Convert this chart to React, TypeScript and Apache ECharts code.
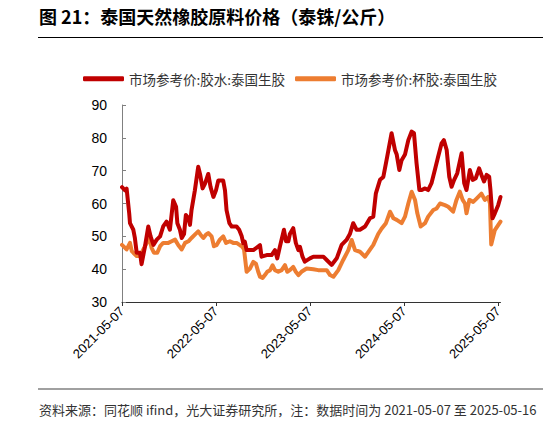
import React, { useEffect, useRef } from "react";
import * as echarts from "echarts";

const titleText = "图 21：泰国天然橡胶原料价格（泰铢/公斤）";
const sourceText = "资料来源：同花顺 ifind，光大证券研究所，注：数据时间为 2021-05-07 至 2025-05-16";
const seriesNames = ["市场参考价:胶水:泰国生胶", "市场参考价:杯胶:泰国生胶"];
const xTickLabels = ["2021-05-07", "2022-05-07", "2023-05-07", "2024-05-07", "2025-05-07"];
const xRange = ["2021-05-07", "2025-05-16"];
const yTicks = [30, 40, 50, 60, 70, 80, 90];

const latexDates = [
  "2021-05-07", "2021-05-19", "2021-05-25", "2021-06-04", "2021-06-07", "2021-06-20", "2021-06-26",
  "2021-07-03", "2021-07-16", "2021-07-22", "2021-08-04", "2021-08-17", "2021-08-26", "2021-09-06",
  "2021-09-19", "2021-10-02", "2021-10-14", "2021-10-27", "2021-11-09", "2021-11-22", "2021-12-03",
  "2021-12-08", "2021-12-18", "2021-12-25", "2022-01-03", "2022-01-10", "2022-01-20", "2022-01-26",
  "2022-02-01", "2022-02-14", "2022-02-27", "2022-03-06", "2022-03-16", "2022-03-25", "2022-04-07",
  "2022-04-16", "2022-04-27", "2022-05-07", "2022-05-16", "2022-06-04", "2022-06-11", "2022-06-17",
  "2022-06-28", "2022-07-07", "2022-07-26", "2022-08-05", "2022-08-15", "2022-08-21", "2022-08-27",
  "2022-09-03", "2022-09-29", "2022-10-25", "2022-10-31", "2022-11-20", "2022-12-09", "2022-12-22",
  "2022-12-31", "2023-01-10", "2023-01-26", "2023-02-03", "2023-02-12", "2023-02-18", "2023-03-03",
  "2023-03-13", "2023-03-23", "2023-03-29", "2023-04-08", "2023-04-17", "2023-05-07", "2023-05-20",
  "2023-06-15", "2023-06-28", "2023-07-11", "2023-07-30", "2023-08-19", "2023-09-07", "2023-09-26",
  "2023-10-09", "2023-10-22", "2023-11-04", "2023-11-17", "2023-12-07", "2023-12-26", "2024-01-08",
  "2024-01-18", "2024-02-03", "2024-02-16", "2024-03-02", "2024-03-19", "2024-04-01", "2024-04-08",
  "2024-04-18", "2024-04-27", "2024-05-10", "2024-05-23", "2024-06-05", "2024-06-14", "2024-06-24",
  "2024-07-05", "2024-07-14", "2024-07-27", "2024-08-08", "2024-08-21", "2024-09-03", "2024-09-16",
  "2024-09-29", "2024-10-08", "2024-10-19", "2024-10-29", "2024-11-07", "2024-11-17", "2024-11-29",
  "2024-12-16", "2024-12-26", "2025-01-04", "2025-01-17", "2025-01-28", "2025-02-09", "2025-02-22",
  "2025-03-03", "2025-03-13", "2025-03-23", "2025-04-02", "2025-04-07", "2025-04-15", "2025-04-24",
  "2025-05-07", "2025-05-16",
];
const latexValues = [
  65, 64, 64.5, 57, 54, 52, 49.5,
  45, 45, 41.5, 46.8, 53, 50, 47.4,
  49, 50, 53, 54.5, 52, 61, 59,
  54, 52, 49.5, 50.7, 56.5, 55.5, 53.5,
  58, 64, 71.2, 69, 64.6, 66, 69,
  65, 62, 64, 67, 67, 64, 58,
  54, 53, 53, 52, 50, 47.9, 48.4,
  45.8, 45.8, 47.3, 43.8, 44.3, 44.3, 45.8,
  43.3, 46.8, 52, 48.5, 48.5, 50.7, 52.5,
  48, 45.8, 46.8, 43.8, 42.3, 43.3, 43.8,
  43.8, 43.8, 42.8, 41.3, 43.3, 47.4, 48.9,
  50.7, 54, 52, 52, 53, 55.5, 56,
  63.1, 67.2, 68.1, 74.3, 81.4, 76.3, 74.9,
  70.2, 73.2, 74.9, 79.3, 81.9, 81.4, 72.2,
  64.1, 64.1, 64.6, 64.1, 66.2, 70.2, 74.3,
  78.3, 79.3, 76.3, 68.1, 65.1, 67.2, 69.2,
  75.3, 66.2, 64.1, 70.2, 67.2, 67.7, 70.7,
  68.7, 66.7, 68.7, 68.2, 64.1, 55.5, 57,
  59.5, 62,
];

const cupDates = [
  "2021-05-07", "2021-05-19", "2021-05-25", "2021-06-07", "2021-06-14", "2021-06-20", "2021-07-03",
  "2021-07-16", "2021-07-29", "2021-08-11", "2021-08-21", "2021-08-30", "2021-09-08", "2021-09-21",
  "2021-10-02", "2021-10-14", "2021-11-03", "2021-11-16", "2021-11-29", "2021-12-12", "2021-12-25",
  "2022-01-07", "2022-01-20", "2022-02-01", "2022-02-14", "2022-02-27", "2022-03-08", "2022-03-19",
  "2022-03-29", "2022-04-07", "2022-04-20", "2022-04-29", "2022-05-09", "2022-05-22", "2022-06-04",
  "2022-06-15", "2022-06-30", "2022-07-13", "2022-07-26", "2022-08-08", "2022-08-15", "2022-08-24",
  "2022-09-03", "2022-09-16", "2022-09-29", "2022-10-09", "2022-10-18", "2022-10-25", "2022-11-04",
  "2022-11-13", "2022-11-22", "2022-12-03", "2022-12-13", "2022-12-22", "2023-01-04", "2023-01-17",
  "2023-01-30", "2023-02-08", "2023-02-18", "2023-03-03", "2023-03-13", "2023-03-23", "2023-04-04",
  "2023-04-24", "2023-05-20", "2023-06-08", "2023-07-11", "2023-07-24", "2023-08-06", "2023-08-25",
  "2023-09-13", "2023-10-03", "2023-10-16", "2023-10-29", "2023-11-17", "2023-12-07", "2023-12-20",
  "2024-01-08", "2024-01-27", "2024-02-09", "2024-02-26", "2024-03-13", "2024-03-26", "2024-04-08",
  "2024-04-27", "2024-05-10", "2024-05-23", "2024-06-05", "2024-06-18", "2024-06-27", "2024-07-10",
  "2024-07-27", "2024-08-08", "2024-08-28", "2024-09-10", "2024-09-23", "2024-10-12", "2024-10-25",
  "2024-11-13", "2024-11-26", "2024-12-09", "2024-12-20", "2024-12-29", "2025-01-04", "2025-01-15",
  "2025-01-30", "2025-02-12", "2025-03-03", "2025-03-16", "2025-03-29", "2025-04-05", "2025-04-10",
  "2025-04-24", "2025-05-16",
];
const cupValues = [
  47.4, 46.5, 46, 48, 45.5, 45, 44,
  44, 46, 48, 49.5, 46.5, 45, 45,
  47, 48, 48, 48.5, 49, 47.3, 46,
  48, 48.5, 49.5, 50.5, 51.5, 50.5, 49.5,
  50.5, 51, 50, 47, 47.3, 49, 50,
  48, 48.5, 48, 48, 47.3, 47, 46,
  39.2, 40.2, 42.2, 41.7, 39.2, 37.7, 37.3,
  38.2, 39.2, 39.7, 41.2, 39.7, 39.2, 39.7,
  41.2, 39.2, 39.7, 40.7, 39.2, 38.2, 39.2,
  40.2, 40, 39.7, 39.7, 38.2, 37.7, 39.7,
  42.8, 45.8, 48.9, 45.8, 45.3, 43.8, 45.3,
  47.4, 50.7, 52.3, 54, 57.5, 55.5, 55,
  54, 56, 60, 63.6, 61.1, 57, 53,
  54, 56, 58, 58.5, 60, 59.5, 59,
  57.5, 61.1, 63.6, 61.1, 60, 57, 61.1,
  60.5, 61.5, 63, 61.1, 62, 60, 47.5,
  51.9, 54.5,
];

const toTime = (s: string) => {
  const [y, m, d] = s.split("-").map(Number);
  return new Date(y, m - 1, d).getTime();
};
const pad = (n: number) => (n < 10 ? "0" + n : "" + n);
const fmtDate = (v: number) => {
  const d = new Date(v);
  return d.getFullYear() + "-" + pad(d.getMonth() + 1) + "-" + pad(d.getDate());
};

export default function App() {
  const ref = useRef<HTMLDivElement>(null);
  useEffect(() => {
    if (!ref.current) return;
    const chart = echarts.init(ref.current, null, { renderer: "svg" });
    const tickTimes = xTickLabels.map(toTime);
    const option: any = {
      animation: false,
      backgroundColor: "#ffffff",
      textStyle: { fontFamily: "'Noto Sans CJK SC', sans-serif" },
      grid: { left: 122, right: 48.5, top: 105, bottom: 119 },
      legend: {
        left: 83,
        top: 72,
        padding: 0,
        itemWidth: 41,
        itemHeight: 5,
        itemGap: 10,
        icon: "roundRect",
        textStyle: {
          fontFamily: "'Noto Sans CJK SC', sans-serif",
          fontSize: 13.5,
          color: "#333333",
        },
        data: seriesNames,
      },
      xAxis: {
        type: "value",
        min: toTime(xRange[0]),
        max: toTime(xRange[1]),
        splitLine: { show: false },
        axisLine: { lineStyle: { color: "#333333", width: 1 } },
        axisTick: {
          show: true,
          length: 4,
          customValues: tickTimes,
          lineStyle: { color: "#333333" },
        },
        axisLabel: {
          customValues: tickTimes,
          rotate: 45,
          margin: 7,
          fontSize: 13,
          color: "#000000",
          fontFamily: "'Liberation Sans', Arial, sans-serif",
          formatter: (v: number) => fmtDate(v),
          hideOverlap: false,
          showMinLabel: true,
          showMaxLabel: true,
        },
      },
      yAxis: {
        type: "value",
        min: yTicks[0],
        max: yTicks[yTicks.length - 1],
        interval: 10,
        splitLine: { show: false },
        axisLine: { show: true, lineStyle: { color: "#808080", width: 1 } },
        axisTick: { show: true, inside: true, length: 4, lineStyle: { color: "#808080" } },
        axisLabel: {
          margin: 15,
          fontSize: 14,
          color: "#000000",
          fontFamily: "'Liberation Sans', Arial, sans-serif",
        },
      },
      series: [
        {
          name: seriesNames[0],
          type: "line",
          showSymbol: false,
          symbol: "none",
          z: 3,
          itemStyle: { color: "#C00000" },
          lineStyle: { color: "#C00000", width: 4, join: "round", cap: "round" },
          data: latexDates.map((d, i) => [toTime(d), latexValues[i]]),
        },
        {
          name: seriesNames[1],
          type: "line",
          showSymbol: false,
          symbol: "none",
          z: 2,
          itemStyle: { color: "#ED7D31" },
          lineStyle: { color: "#ED7D31", width: 4, join: "round", cap: "round" },
          data: cupDates.map((d, i) => [toTime(d), cupValues[i]]),
        },
      ],
      graphic: [
        {
          type: "text",
          left: 39,
          top: 7,
          style: {
            text: titleText,
            font: "bold 18px 'Noto Sans CJK SC', sans-serif",
            fill: "#000000",
          },
        },
        {
          type: "line",
          shape: { x1: 38, y1: 37.5, x2: 543, y2: 37.5 },
          style: { stroke: "#000000", lineWidth: 1 },
        },
        {
          type: "line",
          shape: { x1: 38, y1: 389, x2: 543, y2: 389 },
          style: { stroke: "#808080", lineWidth: 1.5 },
        },
        {
          type: "text",
          left: 39,
          top: 403,
          style: {
            text: sourceText,
            font: "13px 'Noto Sans CJK SC', sans-serif",
            fill: "#333333",
          },
        },
      ],
    };
    chart.setOption(option);
    return () => chart.dispose();
  }, []);
  return (
    <div
      ref={ref}
      style={{ position: "absolute", left: 0, top: 0, width: 549, height: 421 }}
    />
  );
}
